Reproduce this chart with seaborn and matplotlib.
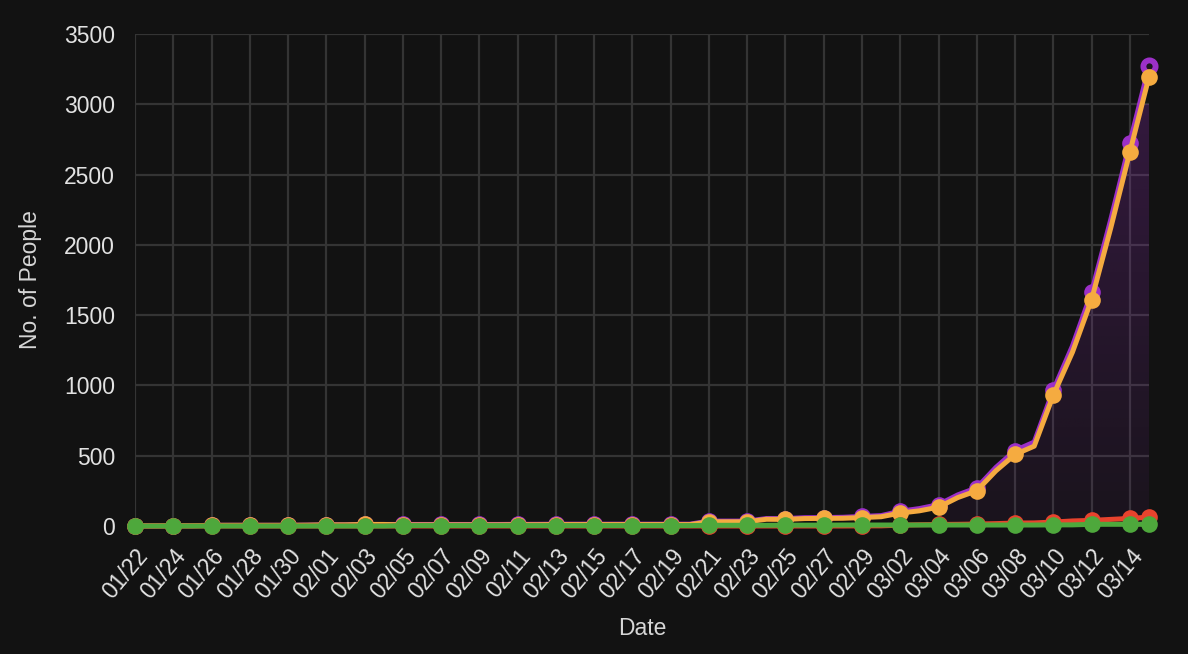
import matplotlib
matplotlib.use("Agg")
import matplotlib.pyplot as plt
import matplotlib.colors as mcolors
import numpy as np
import pandas as pd
import seaborn as sns

# data (US cases, 01/22 - 03/15)
dates = pd.date_range("2020-01-22", "2020-03-15", freq="D")
confirmed = [1, 1, 2, 2, 5, 5, 5, 5, 5, 6,
             8, 8, 11, 11, 11, 11, 11, 11, 11, 11,
             12, 12, 13, 13, 13, 13, 13, 13, 13, 13,
             35, 35, 35, 53, 53, 59, 60, 62, 68,
             74, 105, 124, 152, 221, 272, 417, 537, 597, 967, 1281, 1663, 2179, 2727, 3270]
deaths = [0] * 38 + [1,
                     1, 6, 9, 11, 12, 14, 17, 21, 22, 28, 36, 40, 47, 54, 63]
recovered = [0] * 14 + [3] * 16 + [5, 5, 5, 5, 6, 6, 6, 7, 7,
                                   7, 7, 7, 7, 7, 7, 7, 7, 7, 8, 8, 12, 12, 12, 12]
active = [c - d - r for c, d, r in zip(confirmed, deaths, recovered)]

tick_labels = [d.strftime("%m/%d") for d in dates[::2]]
highlight_from = "2020-03-04"

df = pd.DataFrame({"day": np.arange(len(dates)), "confirmed": confirmed,
                   "active": active, "deaths": deaths, "recovered": recovered})

bg = "#121212"
grid = "#343434"
sns.set_style("dark")
plt.rcParams.update({
    "figure.facecolor": bg, "axes.facecolor": bg, "savefig.facecolor": bg,
    "axes.edgecolor": bg, "grid.color": grid, "text.color": "#e2e2e2",
    "xtick.color": grid, "ytick.color": grid,
    "xtick.labelcolor": "#e2e2e2", "ytick.labelcolor": "#e2e2e2",
})
plt.rcParams["font.family"] = ["Liberation Sans", "DejaVu Sans"]

fig = plt.figure(figsize=(11.88, 6.54), dpi=100)
ax = fig.add_axes([135 / 1188, 128 / 654, 1014 / 1188, 492 / 654])

colors = {"confirmed": "#9c30c8", "active": "#f5ab40",
          "deaths": "#e8432d", "recovered": "#4ea83c"}
marks = list(range(0, len(df), 2)) + [len(df) - 1]

# gradient fill under confirmed for the last days
start = int(np.where(dates == pd.Timestamp(highlight_from))[0][0])
sub = df.iloc[start:]
poly = ax.fill_between(sub["day"], 0, sub["confirmed"], color="none", lw=0)
grad = np.zeros((256, 1, 4))
rgb = mcolors.to_rgb(colors["confirmed"])
grad[:, 0, :3] = rgb
grad[:, 0, 3] = np.linspace(0.24, 0.06, 256)
img = ax.imshow(grad, extent=[sub["day"].iloc[0], sub["day"].iloc[-1], 0, 3000],
                aspect="auto", origin="upper", zorder=1)
img.set_clip_path(poly.get_paths()[0], transform=ax.transData)

for i, key in enumerate(["confirmed", "active", "deaths", "recovered"]):
    sns.lineplot(data=df, x="day", y=key, ax=ax, color=colors[key], lw=3.6,
                 marker="o", markersize=12, markeredgewidth=0,
                 markevery=marks, zorder=3 + i, clip_on=False)

# last confirmed point is drawn as a ring
ax.plot(df["day"].iloc[-1], df["confirmed"].iloc[-1], "o", ms=8.8, mew=4.2,
        mec=colors["confirmed"], mfc="#1c1420", zorder=3.5, clip_on=False)

ax.set_xlim(0, len(df) - 1)
ax.set_ylim(0, 3500)
ax.set_yticks(range(0, 3501, 500))
ax.set_xticks(df["day"][::2])
ax.set_xticklabels(tick_labels, rotation=50, ha="right", va="top",
                   rotation_mode="anchor")
ax.grid(True, color=grid, lw=1.6, zorder=0)
ax.set_axisbelow(True)
ax.tick_params(axis="y", length=12.5, width=1.2, pad=2, labelsize=16.5)
ax.tick_params(axis="x", length=14, width=1.2, pad=-0.5, labelsize=16.5)
for s in ax.spines.values():
    s.set_visible(False)

ax.set_xlabel("Date", fontsize=16.5, color="#d6d6d6", labelpad=10)
ax.set_ylabel("No. of People", fontsize=16.5, color="#d6d6d6", labelpad=16)

fig.savefig("out.png", dpi=100)
